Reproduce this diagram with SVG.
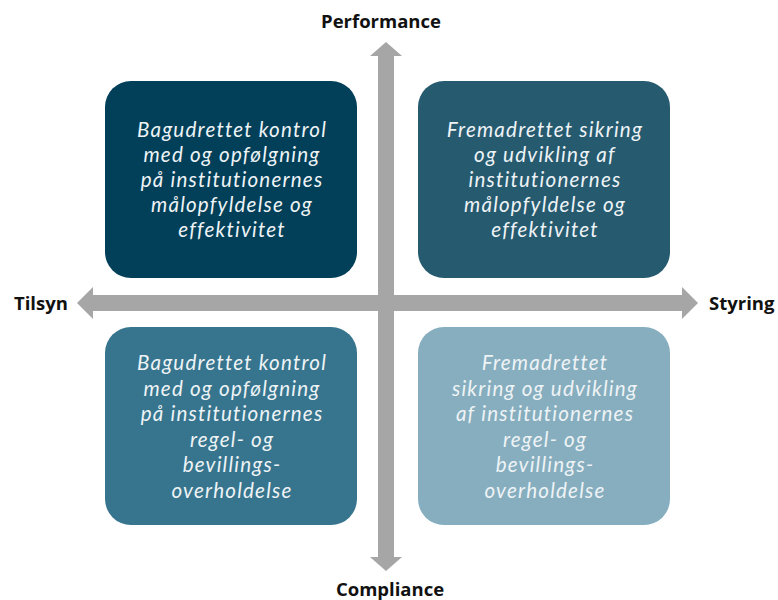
<svg xmlns="http://www.w3.org/2000/svg" width="778" height="600" viewBox="0 0 778 600">
<style>
.box{stroke:none}
.t{font-family:Lato,"Open Sans",sans-serif;font-style:italic;font-size:20.6px;fill:#eef3f6;text-anchor:middle;letter-spacing:1.2px}
.lab{font-family:"Open Sans","Noto Sans",sans-serif;font-weight:bold;font-size:18.5px;fill:#111}
.ax{fill:#a6a6a6}
</style>
<rect width="778" height="600" fill="#fff"/>
<g id="connectors">
<polygon class="ax" points="77,303 93,287 93,295 682,295 682,287 698,303 682,319 682,311 93,311 93,319"/>
<polygon class="ax" points="386,42 402,56 394,56 394,557 402,557 386,571 370,557 378,557 378,56 370,56"/>
</g>
<g id="box1">
<rect class="box" x="105" y="81" width="252" height="197" rx="26" fill="#023f58"/>
<text class="t" x="232" y="137">Bagudrettet kontrol</text>
<text class="t" x="232" y="162">med og opfølgning</text>
<text class="t" x="232" y="187">på institutionernes</text>
<text class="t" x="232" y="212">målopfyldelse og</text>
<text class="t" x="232" y="237">effektivitet</text>
</g>
<g id="box2">
<rect class="box" x="418" y="81" width="252" height="197" rx="26" fill="#265a6f"/>
<text class="t" x="545" y="137">Fremadrettet sikring</text>
<text class="t" x="545" y="162">og udvikling af</text>
<text class="t" x="545" y="187">institutionernes</text>
<text class="t" x="545" y="212">målopfyldelse og</text>
<text class="t" x="545" y="237">effektivitet</text>
</g>
<g id="box3">
<rect class="box" x="105" y="327" width="252" height="198" rx="26" fill="#36758d"/>
<text class="t" x="232" y="370">Bagudrettet kontrol</text>
<text class="t" x="232" y="395.5">med og opfølgning</text>
<text class="t" x="232" y="421">på institutionernes</text>
<text class="t" x="232" y="446.5">regel- og</text>
<text class="t" x="232" y="472">bevillings-</text>
<text class="t" x="232" y="497.5">overholdelse</text>
</g>
<g id="box4">
<rect class="box" x="418" y="327" width="252" height="198" rx="26" fill="#86aebe"/>
<text class="t" x="545" y="370">Fremadrettet</text>
<text class="t" x="545" y="395.5">sikring og udvikling</text>
<text class="t" x="545" y="421">af institutionernes</text>
<text class="t" x="545" y="446.5">regel- og</text>
<text class="t" x="545" y="472">bevillings-</text>
<text class="t" x="545" y="497.5">overholdelse</text>
</g>
<g id="labels">
<text class="lab" x="381" y="28" text-anchor="middle">Performance</text>
<text class="lab" x="390" y="596" text-anchor="middle">Compliance</text>
<text class="lab" x="14" y="310">Tilsyn</text>
<text class="lab" x="709" y="310">Styring</text>
</g>
</svg>
